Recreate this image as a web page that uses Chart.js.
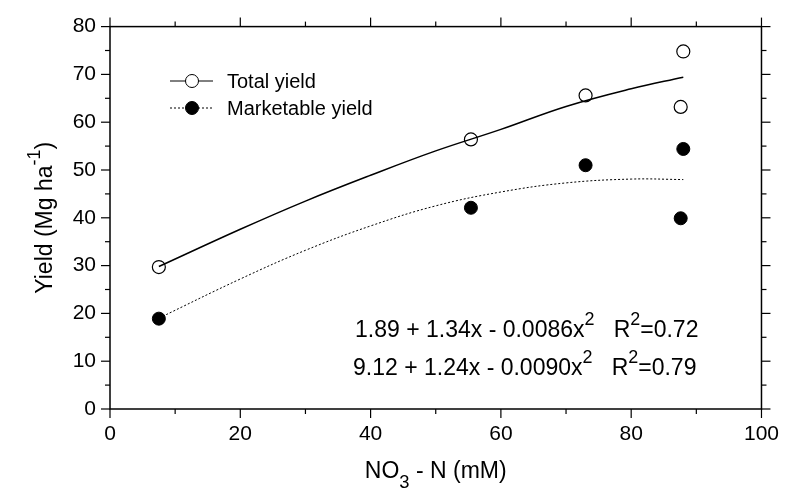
<!DOCTYPE html>
<html>
<head>
<meta charset="utf-8">
<script src="https://cdn.jsdelivr.net/npm/chart.js@4"></script>
<style>
  html, body { margin:0; padding:0; background:#fff; }
  #wrap { width:792px; height:494px; }
</style>
</head>
<body>
<div id="wrap"><canvas id="chart" width="792" height="494"></canvas></div>
<script>
/* DATA */
const totalX = [7.5, 55.4, 73, 87.6, 88];
const totalY = [29.7, 56.4, 65.6, 63.2, 74.8];
const marketX = [7.5, 55.4, 73, 88, 87.6];
const marketY = [18.9, 42.1, 51.0, 54.4, 39.9];

// fitted curves
const fitX = [7.5, 20, 30, 40, 50, 60, 70, 80, 88];
const fitTotal = [29.8, 37.6, 43.5, 48.9, 54.0, 58.5, 63.3, 67.0, 69.4];
const fitMarket = [19.0, 27.2, 33.2, 38.3, 42.5, 45.4, 47.3, 48.1, 48.0];

const legendLabels = ["Total yield", "Marketable yield"];
const eqTotal = ["1.89 + 1.34x - 0.0086x", "2", "   R", "2", "=0.72"];
const eqMarket = ["9.12 + 1.24x - 0.0090x", "2", "   R", "2", "=0.79"];

const xMin = 0, xMax = 100, xMajor = 20, xMinor = 10;
const yMin = 0, yMax = 80, yMajor = 10, yMinor = 5;

const FONT = '"Liberation Sans", Arial, sans-serif';

function pts(xs, ys){ return xs.map((x,i)=>({x:x, y:ys[i]})); }

/* text with alternating normal / raised (or lowered) pieces */
function richWidth(ctx, parts, size, k){
  let w = 0;
  parts.forEach((p,i)=>{
    ctx.font = (i%2 ? size*k : size) + "px " + FONT;
    w += ctx.measureText(p).width;
  });
  return w;
}
function drawRich(ctx, parts, x, y, size, k, shift){
  parts.forEach((p,i)=>{
    const small = i%2===1;
    ctx.font = (small ? size*k : size) + "px " + FONT;
    ctx.fillText(p, x, small ? y + shift : y);
    x += ctx.measureText(p).width;
  });
}

/* FRAME, TICKS, LEGEND, EQUATIONS, AXIS TITLES */
const decor = {
  id: "decor",
  afterDraw(chart){
    const {ctx, chartArea:a, scales:{x, y}} = chart;
    ctx.save();
    ctx.strokeStyle = "#000";
    ctx.fillStyle = "#000";
    ctx.lineWidth = 1.5;
    ctx.strokeRect(a.left, a.top, a.right - a.left, a.bottom - a.top);

    ctx.lineWidth = 1.2;
    const line = (x1,y1,x2,y2)=>{ ctx.beginPath(); ctx.moveTo(x1,y1); ctx.lineTo(x2,y2); ctx.stroke(); };
    for(let v = xMin; v <= xMax; v += xMinor){
      const px = x.getPixelForValue(v);
      const len = v % xMajor === 0 ? 9 : 5;
      line(px, a.bottom, px, a.bottom + len);
      line(px, a.top, px, a.top - len);
    }
    for(let v = yMin; v <= yMax; v += yMinor){
      const py = y.getPixelForValue(v);
      const len = v % yMajor === 0 ? 9 : 5;
      line(a.left - len, py, a.left, py);
      line(a.right, py, a.right + len, py);
    }

    // legend
    ctx.textBaseline = "middle";
    ctx.textAlign = "left";
    const rows = [
      {y: 81, dash: [], fill: "#fff"},
      {y: 108, dash: [2,2], fill: "#000"}
    ];
    rows.forEach((r,i)=>{
      ctx.setLineDash(r.dash);
      ctx.lineWidth = 1;
      line(170, r.y, 213, r.y);
      ctx.setLineDash([]);
      ctx.beginPath();
      ctx.arc(192, r.y, 6.5, 0, Math.PI*2);
      ctx.fillStyle = r.fill;
      ctx.fill();
      ctx.stroke();
      ctx.fillStyle = "#000";
      ctx.font = "20px " + FONT;
      ctx.fillText(legendLabels[i], 227, r.y + 1);
    });

    // equations
    ctx.textBaseline = "alphabetic";
    drawRich(ctx, eqTotal, 355, 337, 23, 0.78, -12);
    drawRich(ctx, eqMarket, 353, 375, 23, 0.78, -12);

    // x title
    const xt = ["NO", "3", " - N (mM)"];
    const xw = richWidth(ctx, xt, 23, 0.8);
    drawRich(ctx, xt, (a.left + a.right)/2 - xw/2, 478, 23, 0.8, 10);

    // y title
    const yt = ["Yield (Mg ha", "-1", ")"];
    const yw = richWidth(ctx, yt, 23, 0.78);
    ctx.translate(52, (a.top + a.bottom)/2);
    ctx.rotate(-Math.PI/2);
    drawRich(ctx, yt, -yw/2, 0, 23, 0.78, -12);
    ctx.restore();
  }
};

new Chart(document.getElementById("chart"), {
  type: "scatter",
  data: {
    datasets: [
      {
        type: "line", data: pts(fitX, fitTotal),
        borderColor: "#000", borderWidth: 1.5, pointRadius: 0,
        tension: 0.4, fill: false
      },
      {
        type: "line", data: pts(fitX, fitMarket),
        borderColor: "#000", borderWidth: 1, borderDash: [2,2], pointRadius: 0,
        tension: 0.4, fill: false
      },
      {
        data: pts(totalX, totalY),
        pointRadius: 6.5, pointBackgroundColor: "#fff",
        pointBorderColor: "#000", pointBorderWidth: 1.2
      },
      {
        data: pts(marketX, marketY),
        pointRadius: 6.5, pointBackgroundColor: "#000",
        pointBorderColor: "#000", pointBorderWidth: 1
      }
    ]
  },
  options: {
    responsive: false,
    animation: false,
    layout: { padding: { left: 0, top: 23, right: 20, bottom: 0 } },
    plugins: { legend: { display: false }, tooltip: { enabled: false } },
    scales: {
      x: {
        type: "linear", min: xMin, max: xMax,
        grid: { display: false, drawTicks: false },
        border: { display: false },
        ticks: { stepSize: xMajor, padding: 13, color: "#000", font: { family: FONT, size: 21 } },
        afterFit: s => { s.height = 85; }
      },
      y: {
        type: "linear", min: yMin, max: yMax,
        grid: { display: false, drawTicks: false },
        border: { display: false },
        ticks: { stepSize: yMajor, padding: 14, color: "#000", font: { family: FONT, size: 21 } },
        afterFit: s => { s.width = 110; }
      }
    }
  },
  plugins: [decor]
});
</script>
</body>
</html>
